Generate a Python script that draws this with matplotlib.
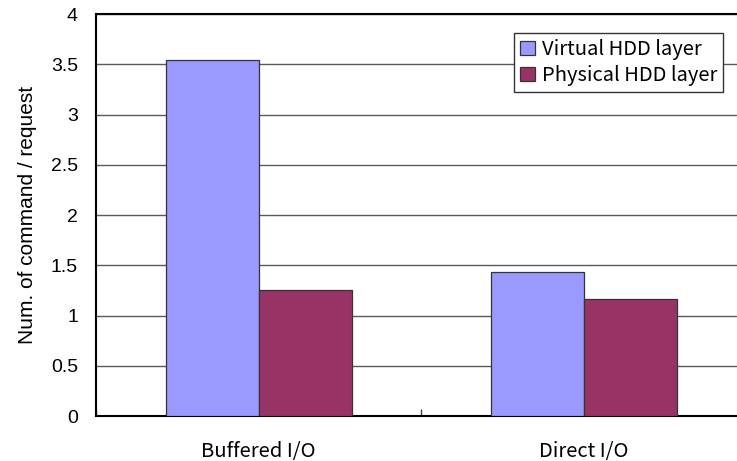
import numpy as np
import matplotlib.pyplot as plt

plt.rcParams['font.family'] = ['Liberation Sans', 'DejaVu Sans']

categories = ['Buffered I/O', 'Direct I/O']
virtual_hdd = [3.54, 1.43]
physical_hdd = [1.25, 1.16]
yticks = [0, 0.5, 1, 1.5, 2, 2.5, 3, 3.5, 4]

jp_font = ['Noto Sans CJK JP', 'DejaVu Sans']

fig = plt.figure(figsize=(7.37, 4.61), dpi=100)
# plot area runs slightly past the right edge of the figure
ax = fig.add_axes([0.1303, 0.0976, 0.883, 0.872])

x = np.arange(len(categories))
w = 0.286
ax.bar(x - w / 2, virtual_hdd, w, color='#9999FF', edgecolor='#333333',
       linewidth=0.9, label='Virtual HDD layer', zorder=3)
ax.bar(x + w / 2, physical_hdd, w, color='#993366', edgecolor='#333333',
       linewidth=0.9, label='Physical HDD layer', zorder=3)

ax.set_xlim(-0.5, 1.5)
ax.set_ylim(0, 4)
ax.set_yticks(yticks)
ax.set_yticklabels([f'{v:g}' for v in yticks])
ax.yaxis.grid(True, color='#5a5a5a', linewidth=1.0)
ax.set_axisbelow(True)

ax.set_xticks(x)
ax.set_xticklabels(categories, family=jp_font, fontsize=14.5)
ax.set_xticks([-0.5, 0.5, 1.5], minor=True)
ax.tick_params(axis='x', which='major', length=0, pad=18)
ax.tick_params(axis='x', which='minor', direction='in', length=5, width=1,
               color='#444444')
ax.tick_params(axis='y', length=0, pad=13, labelsize=14)

for side in ['left', 'bottom', 'top']:
    ax.spines[side].set_linewidth(1.5)
    ax.spines[side].set_color('black')
ax.spines['right'].set_visible(False)

ax.set_ylabel('Num. of command / request', fontsize=15, labelpad=10)

leg = ax.legend(loc='upper right', bbox_to_anchor=(723 / 737, 1 - 33 / 461),
                bbox_transform=fig.transFigure, fancybox=False,
                prop={'family': jp_font, 'size': 14.5},
                framealpha=1, edgecolor='#333333', handlelength=0.7,
                handleheight=0.7, handletextpad=0.35, borderpad=0.3,
                labelspacing=0.25, borderaxespad=0)
leg.get_frame().set_linewidth(1.0)

fig.savefig('out.png', dpi=100)
